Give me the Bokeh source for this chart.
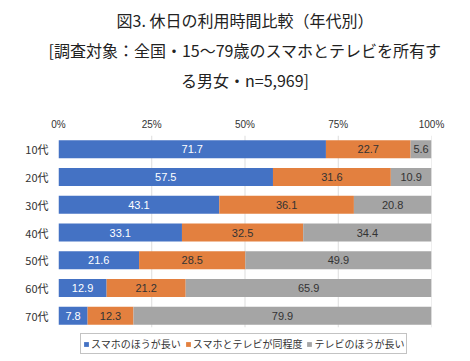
from bokeh.plotting import figure
from bokeh.models import ColumnDataSource, Range1d, Title, Legend, LegendItem, FixedTicker, CustomJSTickFormatter
from bokeh.core.properties import value
from bokeh.embed import file_html
from bokeh.resources import INLINE

ages = ["10代", "20代", "30代", "40代", "50代", "60代", "70代"]
smartphone_longer = [71.7, 57.5, 43.1, 33.1, 21.6, 12.9, 7.8]
same = [22.7, 31.6, 36.1, 32.5, 28.5, 21.2, 12.3]
tv_longer = [5.6, 10.9, 20.8, 34.4, 49.9, 65.9, 79.9]
series_names = ["スマホのほうが長い", "スマホとテレビが同程度", "テレビのほうが長い"]
x_ticks = [0, 25, 50, 75, 100]
colors = ["#4472C4", "#E3803F", "#A5A5A5"]
title_lines = ["図3. 休日の利用時間比較（年代別）",
               "[調査対象：全国・15〜79歳のスマホとテレビを所有す",
               "る男女・n=5,969]"]

CJK = "Noto Sans CJK JP"
NUM = "Liberation Sans"

n = len(ages)
ypos = [n - 1 - i for i in range(n)]  # first category on top
src = ColumnDataSource(dict(y=ypos, s1=smartphone_longer, s2=same, s3=tv_longer))

p = figure(frame_width=373, frame_height=220, output_backend="svg", toolbar_location=None,
           x_range=Range1d(0, 100), y_range=Range1d(-1.438, n - 0.5),
           x_axis_location="above", min_border_left=58, min_border_right=23,
           min_border_bottom=0, min_border_top=135)
p.outline_line_color = None
p.xgrid.grid_line_color = None
p.ygrid.grid_line_color = None

# vertical grid lines over the category band only
gx = [t for t in x_ticks if t > 0]
p.segment(x0=gx, x1=gx, y0=[-0.42] * len(gx), y1=[n - 0.5] * len(gx),
          line_color="#DDDDDD", line_width=1)

renderers = p.hbar_stack(["s1", "s2", "s3"], y="y", height=0.65, color=colors,
                         line_color=None, source=src)

cols = [smartphone_longer, same, tv_longer]
for i, (vals, tc) in enumerate(zip(cols, ["white", "#333333", "#333333"])):
    xs, ys, ts = [], [], []
    for j in range(n):
        left = sum(c[j] for c in cols[:i])
        xs.append(left + vals[j] / 2)
        ys.append(ypos[j])
        ts.append(f"{vals[j]:.1f}")
    p.text(x=xs, y=ys, text=ts, text_align="center", text_baseline="middle",
           text_font=value(NUM), text_font_size="11px", text_color=tc)

xa = p.xaxis[0]
xa.ticker = FixedTicker(ticks=x_ticks)
xa.formatter = CustomJSTickFormatter(code="return tick + '%';")
xa.axis_line_color = None
xa.major_tick_line_color = None
xa.minor_tick_line_color = None
xa.major_label_text_font = NUM
xa.major_label_text_font_size = "10px"
xa.major_label_text_color = "#333333"
xa.major_label_standoff = 0
xa.axis_label = " "
xa.axis_label_text_font_size = "10px"
xa.axis_label_standoff = 8

ya = p.yaxis[0]
ya.ticker = FixedTicker(ticks=ypos)
ya.major_label_overrides = {y: a for y, a in zip(ypos, ages)}
ya.axis_line_color = None
ya.major_tick_line_color = None
ya.minor_tick_line_color = None
ya.major_label_text_font = CJK
ya.major_label_text_font_size = "11px"
ya.major_label_text_color = "#333333"
ya.major_label_standoff = 4

for t in reversed(title_lines):
    p.add_layout(Title(text=t, align="center", text_font=CJK, text_font_size="16px",
                       text_font_style="normal", text_color="#222222", standoff=4), "above")

legend = Legend(items=[LegendItem(label=nm, renderers=[r]) for nm, r in zip(series_names, renderers)],
                orientation="horizontal", location=(22, 1),
                label_text_font=CJK, label_text_font_size="10px", label_text_color="#333333",
                glyph_width=6, glyph_height=6, spacing=4, label_standoff=2,
                padding=2, margin=0, border_line_color="#888888", label_height=10)
p.add_layout(legend, "center")

open("out.html", "w").write(file_html(p, INLINE))
